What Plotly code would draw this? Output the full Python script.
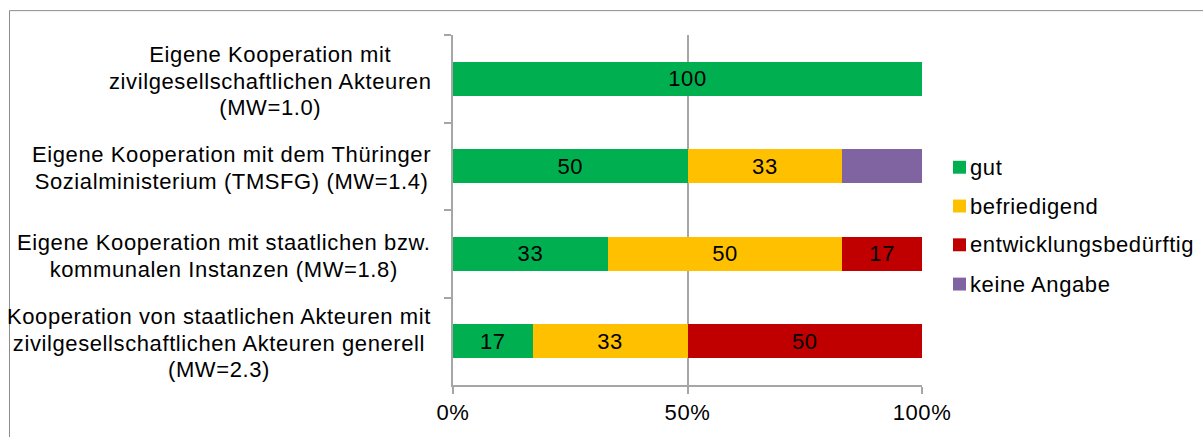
import plotly.graph_objects as go

# Categories (top to bottom) and their label lines
categories = ["K1", "K2", "K3", "K4"]
category_label_lines = [
    ["Eigene Kooperation mit", "zivilgesellschaftlichen Akteuren", "(MW=1.0)"],
    ["Eigene Kooperation mit dem Thüringer", "Sozialministerium (TMSFG) (MW=1.4)"],
    ["Eigene Kooperation mit staatlichen bzw.", "kommunalen Instanzen (MW=1.8)"],
    ["Kooperation von staatlichen Akteuren mit",
     "zivilgesellschaftlichen Akteuren generell", "(MW=2.3)"],
]

# Shares in percent per rating
series_names = ["gut", "befriedigend", "entwicklungsbedürftig", "keine Angabe"]
gut = [100, 50, 33, 17]
befriedigend = [0, 33, 50, 33]
entwicklungsbeduerftig = [0, 0, 17, 50]
keine_angabe = [0, 17, 0, 0]
# Which segments carry a value label
show_label = {
    "gut": [True, True, True, True],
    "befriedigend": [False, True, True, True],
    "entwicklungsbedürftig": [False, False, True, True],
    "keine Angabe": [False, False, False, False],
}

x_ticks = [0, 50, 100]
x_tick_labels = ["0%", "50%", "100%"]

colors = {
    "gut": "#00B050",
    "befriedigend": "#FFC000",
    "entwicklungsbedürftig": "#C00000",
    "keine Angabe": "#8064A2",
}

FONT = "Liberation Sans, Arial, sans-serif"
FS = 22
AXIS_GRAY = "#A6A6A6"

W, H = 1203, 437
ML, MR, MT, MB = 453, 281, 35, 50
PW, PH = W - ML - MR, H - MT - MB


def px_x(px):
    return (px - ML) / PW


def px_y(py):
    return (H - MB - py) / PH


def spaced(s, size=FS, spacing=0.6):
    """Wrap text in a span with slightly widened letter spacing."""
    return f'<span style="font-size:{size}px;letter-spacing:{spacing}px">{s}</span>'


fig = go.Figure()
series_values = [gut, befriedigend, entwicklungsbeduerftig, keine_angabe]
for name, vals in zip(series_names, series_values):
    labels = [spaced(str(v)) if s and v else "" for v, s in zip(vals, show_label[name])]
    fig.add_trace(go.Bar(
        y=categories,
        x=vals,
        name=name,
        orientation="h",
        marker=dict(color=colors[name], line=dict(width=0)),
        text=labels,
        textposition="inside",
        insidetextanchor="middle",
        textangle=0,
        constraintext="none",
        textfont=dict(family=FONT, size=FS, color="#000000"),
        showlegend=False,
        hoverinfo="x+name",
    ))

fig.update_layout(
    width=W,
    height=H,
    margin=dict(l=ML, r=MR, t=MT, b=MB, pad=0),
    barmode="stack",
    bargap=0.61,
    plot_bgcolor="white",
    paper_bgcolor="white",
    font=dict(family=FONT, size=FS, color="#000000"),
    xaxis=dict(
        range=[0, 100],
        tickvals=x_ticks,
        ticktext=[spaced(t) for t in x_tick_labels],
        showgrid=True,
        gridcolor=AXIS_GRAY,
        gridwidth=1.5,
        showline=True,
        linecolor=AXIS_GRAY,
        linewidth=1.5,
        ticks="outside",
        ticklen=7,
        tickcolor=AXIS_GRAY,
        tickwidth=1.5,
        zeroline=False,
        tickfont=dict(family=FONT, size=FS, color="#000000"),
        fixedrange=True,
    ),
    yaxis=dict(
        categoryorder="array",
        categoryarray=categories,
        autorange="reversed",
        showticklabels=False,
        showgrid=False,
        showline=True,
        linecolor=AXIS_GRAY,
        linewidth=1.5,
        ticks="outside",
        tickson="boundaries",
        ticklen=7,
        tickcolor=AXIS_GRAY,
        tickwidth=1.5,
        zeroline=False,
        fixedrange=True,
    ),
)

# Category labels, centred line by line, right edge close to the axis.
# The base font size sets the line pitch; the spans set the glyph size.
for cat, lines in zip(categories, category_label_lines):
    fig.add_annotation(
        x=px_x(433), xref="paper", xanchor="right",
        y=cat, yref="y", yanchor="middle", yshift=-2,
        text="<br>".join(spaced(l) for l in lines), align="center", showarrow=False,
        font=dict(family=FONT, size=20.4, color="#000000"),
    )

# Legend: coloured squares with names
legend_y = [168, 207, 246, 285.5]
for name, ly in zip(series_names, legend_y):
    fig.add_shape(
        type="rect", xref="paper", yref="paper",
        x0=px_x(953), x1=px_x(966), y0=px_y(ly + 6.5), y1=px_y(ly - 6.5),
        fillcolor=colors[name], line=dict(width=0),
    )
    fig.add_annotation(
        x=px_x(968), xref="paper", xanchor="left",
        y=px_y(ly), yref="paper", yanchor="middle",
        text=spaced(name), showarrow=False, align="left",
        font=dict(family=FONT, size=FS, color="#000000"),
    )

# Outer chart frame
fig.add_shape(
    type="rect", xref="paper", yref="paper", layer="below",
    x0=px_x(9.5), x1=px_x(1215), y0=px_y(450), y1=px_y(10.5),
    line=dict(color="#8C8C8C", width=1), fillcolor="rgba(0,0,0,0)",
)

fig.write_html("out.html")
